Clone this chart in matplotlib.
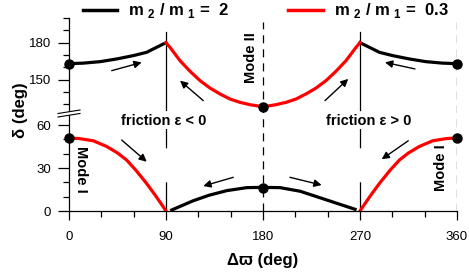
import matplotlib
matplotlib.use('Agg')
import matplotlib.pyplot as plt
from matplotlib.lines import Line2D
from matplotlib.patches import Polygon

plt.rcParams['font.family'] = ['Liberation Sans', 'DejaVu Sans']
plt.rcParams['mathtext.fontset'] = 'custom'
plt.rcParams['mathtext.rm'] = 'Liberation Sans'
plt.rcParams['mathtext.bf'] = 'Liberation Sans:bold'
plt.rcParams['lines.scale_dashes'] = False

# upper branch (delta > 120)
hi_black_l_x = [0, 13.3, 28.8, 44.3, 59.7, 72.1, 78.2, 90]
hi_black_l_y = [163, 163.4, 164.6, 166.8, 169.5, 172.2, 174.9, 180]
hi_red_x = [90, 93.7, 103, 112.3, 121.6, 130.8, 140.1, 149.4, 158.7, 168, 180,
            192, 201.3, 210.6, 219.9, 229.2, 238.4, 247.7, 257, 266.3, 270]
hi_red_y = [180, 176.2, 165.4, 156.8, 149.2, 143.2, 138.4, 134.3, 131.6, 129.7, 128,
            129.7, 131.6, 134.3, 138.4, 143.2, 149.2, 156.8, 165.4, 176.2, 180]
hi_black_r_x = [270, 281.8, 287.9, 300.3, 315.7, 331.2, 346.7, 360]
hi_black_r_y = [180, 174.9, 172.2, 169.5, 166.8, 164.6, 163.4, 163]
hi_pts_x = [0, 180, 360]
hi_pts_y = [163, 128, 163]

# lower branch (delta < 70)
lo_red_l_x = [0, 10, 22.5, 35, 45, 53.4, 62, 71.9, 80, 86, 90]
lo_red_l_y = [51, 50.5, 49, 45, 40.5, 35.6, 28.5, 19.3, 11, 4.5, 0]
lo_black_x = [95.3, 115.4, 130, 146.3, 164.9, 180, 195.8, 214.4, 239.1, 252, 265.4]
lo_black_y = [0.7, 7.2, 11, 14.2, 16.3, 16.5, 16.3, 13.8, 7.7, 4.5, 1.2]
lo_red_r_x = [270, 274, 280, 288.1, 298, 306.6, 315, 325, 337.5, 350, 360]
lo_red_r_y = [0, 4.5, 11, 19.3, 28.5, 35.6, 40.5, 45, 49, 50.5, 51]
lo_pts_x = [0, 180, 360]
lo_pts_y = [51, 16, 51]

# arrows: (x0, y0, x1, y1)
hi_arrows = [(39.6, 157.3, 67.4, 164.0), (124.6, 133.0, 103.0, 149.2),
             (237.5, 133.0, 259.1, 150.6), (321.0, 158.7, 293.2, 164.0)]
lo_arrows = [(48.9, 49.5, 72.1, 34.4), (152.4, 23.5, 124.6, 17.4),
             (205.0, 23.5, 234.4, 18.1), (314.8, 49.0, 290.1, 36.1)]

W, H = 469, 273
fig = plt.figure(figsize=(W / 100, H / 100), dpi=100)
L, R = 69 / W, 457 / W
ax_lo = fig.add_axes([L, 1 - 211 / H, R - L, 98 / H])
ax_hi = fig.add_axes([L, 1 - 113 / H, R - L, 95 / H])

lw = 2.3
ax_hi.plot(hi_black_l_x, hi_black_l_y, color='k', lw=lw)
ax_hi.plot(hi_black_r_x, hi_black_r_y, color='k', lw=lw)
ax_hi.plot(hi_red_x, hi_red_y, color='red', lw=lw)
ax_hi.plot(hi_pts_x, hi_pts_y, 'o', color='k', ms=6.5, clip_on=False, zorder=5)

ax_lo.plot(lo_red_l_x, lo_red_l_y, color='red', lw=lw)
ax_lo.plot(lo_red_r_x, lo_red_r_y, color='red', lw=lw)
ax_lo.plot(lo_black_x, lo_black_y, color='k', lw=lw)
ax_lo.plot(lo_pts_x, lo_pts_y, 'o', color='k', ms=6.5, clip_on=False, zorder=5)

for ax, arrows in ((ax_hi, hi_arrows), (ax_lo, lo_arrows)):
    for x0, y0, x1, y1 in arrows:
        ax.annotate('', xy=(x1, y1), xytext=(x0, y0),
                    arrowprops=dict(arrowstyle='-|>', color='k', lw=1,
                                    mutation_scale=11, shrinkA=0, shrinkB=0))

# reference lines
for x in (180, 360):
    ax_lo.axvline(x, color='k', lw=0.9, ls=(0, (5.8, 4.3)), zorder=0)
    ax_hi.axvline(x, color='k', lw=0.9, ls=(0, (5.8, 4.3)), ymax=0.96, zorder=0)
for x in (90, 270):
    ax_lo.axvline(x, color='k', lw=0.9, ls=(0, (21, 24.5)), zorder=0)
    ax_hi.axvline(x, color='k', lw=0.9, ymin=0.03, ymax=0.85, zorder=0)

ax_lo.set_xlim(0, 360)
ax_hi.set_xlim(0, 360)
ax_lo.set_ylim(0, 98 / 1.4333)
ax_hi.set_ylim(200 - 95 / 1.2333, 200)

ax_lo.set_xticks([0, 90, 180, 270, 360])
ax_lo.set_xticks(range(0, 361, 30), minor=True)
ax_lo.set_yticks([0, 30, 60])
ax_lo.set_yticks(range(0, 61, 10), minor=True)
ax_hi.set_yticks([150, 180])
ax_hi.set_yticks(range(130, 201, 10), minor=True)
ax_hi.set_xticks([])

for ax in (ax_lo, ax_hi):
    ax.patch.set_visible(False)
    for s in ('top', 'right'):
        ax.spines[s].set_visible(False)
    ax.spines['left'].set_linewidth(0.9)
    ax.spines['bottom'].set_linewidth(0.9)
    ax.tick_params(axis='y', which='major', length=8, width=0.9, pad=5, labelsize=9.5)
    ax.tick_params(axis='y', which='minor', length=4.3, width=0.9)
ax_hi.spines['bottom'].set_visible(False)
ax_lo.tick_params(axis='x', which='major', length=6.5, width=0.9, pad=8, labelsize=9.5)
ax_lo.tick_params(axis='x', which='minor', length=4.3, width=0.9)

# axis break marks
x0, x1 = 58 / W, 80 / W
fig.add_artist(Polygon([[x0, 1 - 113.5 / H], [x1, 1 - 110 / H], [x1, 1 - 113.5 / H], [x0, 1 - 117 / H]],
                       closed=True, facecolor='white', edgecolor='none', transform=fig.transFigure, zorder=10))
fig.add_artist(Line2D([x0, x1], [1 - 113.5 / H, 1 - 110 / H], color='k', lw=0.8, zorder=11))
fig.add_artist(Line2D([x0, x1], [1 - 117 / H, 1 - 113.5 / H], color='k', lw=0.8, zorder=11))

txt = dict(weight='bold', size=10.5)
ax_lo.text(88, 63, 'friction \u03b5 < 0', ha='center', va='center',
           bbox=dict(facecolor='white', edgecolor='none', pad=1), zorder=6, **txt)
ax_lo.text(278, 63, 'friction \u03b5 > 0', ha='center', va='center',
           bbox=dict(facecolor='white', edgecolor='none', pad=1), zorder=6, **txt)
ax_hi.text(169, 168, 'Mode II', rotation=90, ha='center', va='center', **txt)
ax_lo.text(11, 29.3, 'Mode I', rotation=-90, ha='center', va='center', **txt)
ax_lo.text(345, 30.4, 'Mode I', rotation=90, ha='center', va='center', **txt)

fig.text(20 / W, 1 - 110 / H, '\u03b4 (deg)', rotation=90, ha='center', va='center',
         weight='bold', size=12)
fig.text(263 / W, 1 - 260 / H, '\u0394\u03d6 (deg)', ha='center', va='center',
         weight='bold', size=12)

handles = [Line2D([], [], color='k', lw=2.5), Line2D([], [], color='red', lw=2.5)]
labels = [r'm $_\mathbf{2}$ / m $_\mathbf{1}$ =  2', r'm $_\mathbf{2}$ / m $_\mathbf{1}$ =  0.3']
fig.legend(handles, labels, ncol=2, loc='upper left', bbox_to_anchor=(83 / W, 1.0 - 1.5 / H),
           frameon=False, borderpad=0, borderaxespad=0, handlelength=2.05,
           handletextpad=0.66, columnspacing=3.55, prop=dict(weight='bold', size=12))

fig.savefig('out.png', dpi=100)
